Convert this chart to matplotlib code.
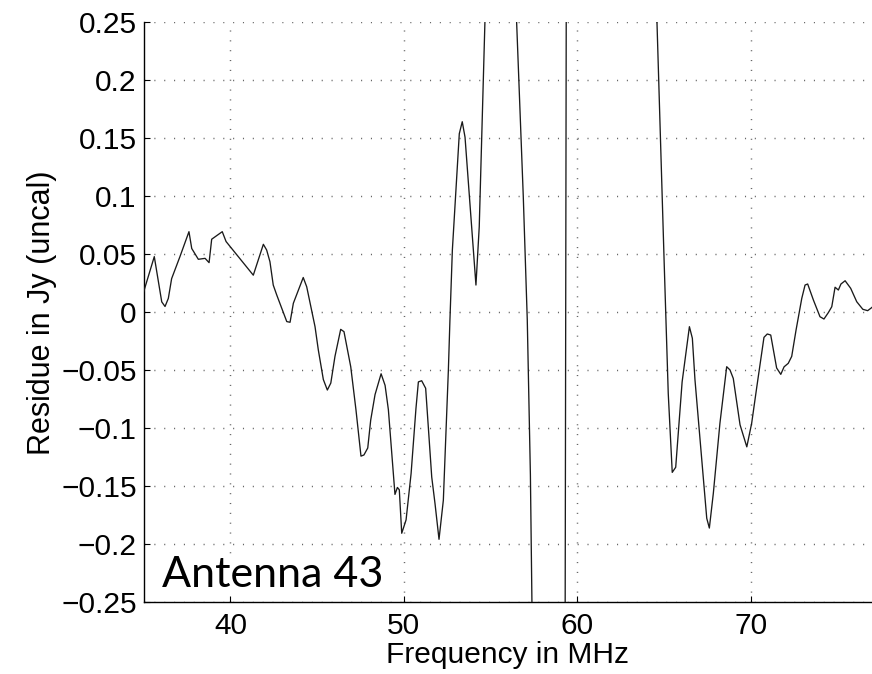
import matplotlib
matplotlib.use("Agg")
import matplotlib.pyplot as plt
from matplotlib.ticker import FixedLocator, FixedFormatter

# residue spectrum, antenna 43 (values off the top/bottom of the window are clipped)
freq_mhz = [
    35.0, 35.61, 36.04, 36.23, 36.42, 36.61, 37.09, 37.61, 37.77, 38.15,
    38.54, 38.77, 38.92, 39.53, 39.75, 41.32, 41.9, 42.09, 42.28, 42.47,
    42.67, 43.25, 43.44, 43.63, 44.2, 44.4, 44.88, 45.07, 45.36, 45.59,
    45.79, 46.03, 46.36, 46.55, 46.94, 47.24, 47.53, 47.7, 47.92, 48.09,
    48.34, 48.69, 48.92, 49.11, 49.49, 49.63, 49.74, 49.88, 50.13, 50.42,
    50.7, 50.84, 51.03, 51.26, 51.61, 51.8, 52.03, 52.28, 52.57, 52.66,
    52.8, 53.2, 53.37, 53.53, 54.16, 54.35, 54.9, 55.5, 56.2, 56.89,
    57.12, 57.3, 57.55, 58.2, 58.8, 59.12, 59.57, 60.5, 62.0, 63.5,
    64.3, 65.01, 65.25, 65.48, 65.68, 66.05, 66.47, 66.64, 66.79, 67.47,
    67.62, 67.85, 68.23, 68.62, 68.81, 69.0, 69.39, 69.78, 70.06, 70.35,
    70.77, 70.96, 71.16, 71.5, 71.74, 71.93, 72.17, 72.37, 72.62, 72.95,
    73.14, 73.29, 73.62, 74.0, 74.23, 74.48, 74.68, 74.87, 75.06, 75.21,
    75.45, 75.77, 76.12, 76.47, 76.75, 76.98, 77.2,
]
residue_jy = [
    0.0178, 0.048, 0.009, 0.005, 0.012, 0.029, 0.048, 0.0695, 0.055, 0.0457,
    0.0465, 0.0428, 0.063, 0.0695, 0.061, 0.032, 0.0586, 0.0537, 0.0436, 0.0235,
    0.015, -0.008, -0.0086, 0.0078, 0.030, 0.022, -0.0124, -0.0325, -0.058, -0.067,
    -0.061, -0.038, -0.0147, -0.0167, -0.047, -0.084, -0.124, -0.123, -0.117, -0.093,
    -0.071, -0.053, -0.063, -0.084, -0.157, -0.151, -0.153, -0.1905, -0.179, -0.139,
    -0.083, -0.060, -0.059, -0.0655, -0.142, -0.165, -0.1957, -0.162, -0.0497, -0.0066,
    0.0537, 0.154, 0.1643, 0.151, 0.0235, 0.0738, 0.37, 0.55, 0.37, 0.0997,
    -0.0066, -0.14, -0.45, -1.1, -1.6, -1.8, 1.95, 2.3, 1.8, 0.9,
    0.4, 0.045, -0.07, -0.138, -0.1336, -0.06, -0.0124, -0.0224, -0.058, -0.1776,
    -0.186, -0.156, -0.0957, -0.0469, -0.0497, -0.057, -0.097, -0.116, -0.0957, -0.065,
    -0.0216, -0.0187, -0.0196, -0.048, -0.0535, -0.047, -0.044, -0.038, -0.0153, 0.012,
    0.0235, 0.0244, 0.0106, -0.0038, -0.0058, -0.0003, 0.0048, 0.0216, 0.0192, 0.0244,
    0.0272, 0.0207, 0.0091, 0.0026, 0.0014, 0.004, 0.007,
]

x_ticks = [40, 50, 60, 70]
x_tick_labels = ["40", "50", "60", "70"]
y_ticks = [0.25, 0.2, 0.15, 0.1, 0.05, 0, -0.05, -0.1, -0.15, -0.2, -0.25]
y_tick_labels = ["0.25", "0.2", "0.15", "0.1", "0.05", "0",
                 "\u22120.05", "\u22120.1", "\u22120.15", "\u22120.2", "\u22120.25"]

plt.rcParams["font.family"] = ["Liberation Sans", "DejaVu Sans"]

fig = plt.figure(figsize=(8.72, 6.74), dpi=100)
ax = fig.add_axes([0.1648, 0.1064, 0.8352, 0.8605])

ax.plot(freq_mhz, residue_jy, color="#1a1a1a", lw=0.95, zorder=3)

ax.set_xlim(35, 77)
ax.set_ylim(-0.25, 0.25)
ax.xaxis.set_major_locator(FixedLocator(x_ticks))
ax.xaxis.set_major_formatter(FixedFormatter(x_tick_labels))
ax.yaxis.set_major_locator(FixedLocator(y_ticks))
ax.yaxis.set_major_formatter(FixedFormatter(y_tick_labels))

ax.grid(True, color="0.4", lw=1.05, linestyle=(0, (0.75, 6.0)), zorder=0)
ax.tick_params(direction="in", length=4, width=0.8, labelsize=21.5)
ax.tick_params(axis="x", pad=7)
ax.tick_params(axis="y", pad=5)

for side in ("top", "right"):
    ax.spines[side].set_visible(False)
for side in ("left", "bottom"):
    ax.spines[side].set_linewidth(1.0)

ax.set_xlabel("Frequency in MHz", fontsize=21.5, labelpad=1)
ax.set_ylabel("Residue in Jy (uncal)", fontsize=22, labelpad=3)

ax.text(0.025, 0.027, "Antenna 43", transform=ax.transAxes,
        family=["Lato", "DejaVu Sans"], fontsize=31, va="baseline", ha="left",
        bbox=dict(facecolor="white", edgecolor="none", pad=1), zorder=4)

fig.savefig("out.png", dpi=100)
